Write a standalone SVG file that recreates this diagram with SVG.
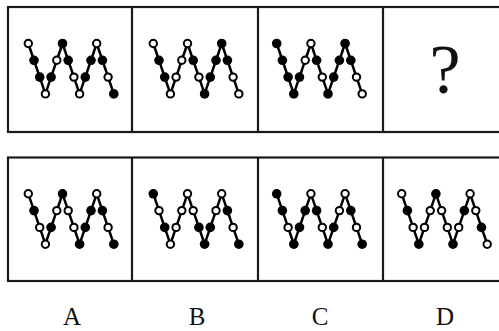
<svg xmlns="http://www.w3.org/2000/svg" xmlns:xlink="http://www.w3.org/1999/xlink" width="499" height="331" viewBox="0 0 499 331">
<style>
.frame{fill:none;stroke:#1a1a1a;stroke-width:2.2}
.zz{fill:none;stroke:#000;stroke-width:2.5;stroke-linejoin:round}
.o{fill:#fff;stroke:#000;stroke-width:2}
.f{fill:#000}
.lbl{font-family:"Liberation Serif","Times New Roman",serif;font-size:25px;fill:#111;text-anchor:middle}
.q{font-family:"Liberation Serif","Times New Roman",serif;font-size:70px;fill:#111;text-anchor:middle}
</style>
<defs>
<polyline id="zig" class="zz" points="0,0 17.1,50.4 34.2,0 51.3,50.4 68.4,0 85.5,50.4"/>
</defs>
<rect width="499" height="331" fill="#fff"/>
<g id="frames">
<rect class="frame" x="8" y="7" width="502" height="125"/>
<line class="frame" x1="132" y1="7" x2="132" y2="132"/>
<line class="frame" x1="258" y1="7" x2="258" y2="132"/>
<line class="frame" x1="383" y1="7" x2="383" y2="132"/>
<rect class="frame" x="8" y="157.5" width="502" height="123.5"/>
<line class="frame" x1="132" y1="157.5" x2="132" y2="281"/>
<line class="frame" x1="258" y1="157.5" x2="258" y2="281"/>
<line class="frame" x1="383" y1="157.5" x2="383" y2="281"/>
</g>
<g id="connectors">
<use xlink:href="#zig" transform="translate(28.3,43.5)"/>
<use xlink:href="#zig" transform="translate(153.3,43.5)"/>
<use xlink:href="#zig" transform="translate(276.7,43.5)"/>
<use xlink:href="#zig" transform="translate(28.3,193.8)"/>
<use xlink:href="#zig" transform="translate(153.3,193.8)"/>
<use xlink:href="#zig" transform="translate(276.7,193.8)"/>
<use xlink:href="#zig" transform="translate(401.7,193.8)"/>
</g>
<g id="panel1" transform="translate(28.3,43.5)">
<circle class="o" cx="0" cy="0" r="3.7"/><circle class="f" cx="5.7" cy="16.8" r="4.8"/><circle class="f" cx="11.4" cy="33.6" r="4.8"/><circle class="o" cx="17.1" cy="50.4" r="3.7"/>
<circle class="f" cx="22.8" cy="33.6" r="4.8"/><circle class="o" cx="28.5" cy="16.8" r="3.7"/><circle class="f" cx="34.2" cy="0" r="4.8"/>
<circle class="f" cx="39.9" cy="16.8" r="4.8"/><circle class="o" cx="45.6" cy="33.6" r="3.7"/><circle class="o" cx="51.3" cy="50.4" r="3.7"/>
<circle class="f" cx="57" cy="33.6" r="4.8"/><circle class="f" cx="62.7" cy="16.8" r="4.8"/><circle class="o" cx="68.4" cy="0" r="3.7"/>
<circle class="f" cx="74.1" cy="16.8" r="4.8"/><circle class="o" cx="79.8" cy="33.6" r="3.7"/><circle class="f" cx="85.5" cy="50.4" r="4.8"/>
</g>
<g id="panel2" transform="translate(153.3,43.5)">
<circle class="o" cx="0" cy="0" r="3.7"/><circle class="f" cx="5.7" cy="16.8" r="4.8"/><circle class="f" cx="11.4" cy="33.6" r="4.8"/><circle class="o" cx="17.1" cy="50.4" r="3.7"/>
<circle class="o" cx="22.8" cy="33.6" r="3.7"/><circle class="o" cx="28.5" cy="16.8" r="3.7"/><circle class="o" cx="34.2" cy="0" r="3.7"/>
<circle class="f" cx="39.9" cy="16.8" r="4.8"/><circle class="o" cx="45.6" cy="33.6" r="3.7"/><circle class="f" cx="51.3" cy="50.4" r="4.8"/>
<circle class="f" cx="57" cy="33.6" r="4.8"/><circle class="f" cx="62.7" cy="16.8" r="4.8"/><circle class="f" cx="68.4" cy="0" r="4.8"/>
<circle class="f" cx="74.1" cy="16.8" r="4.8"/><circle class="o" cx="79.8" cy="33.6" r="3.7"/><circle class="o" cx="85.5" cy="50.4" r="3.7"/>
</g>
<g id="panel3" transform="translate(276.7,43.5)">
<circle class="f" cx="0" cy="0" r="4.8"/><circle class="f" cx="5.7" cy="16.8" r="4.8"/><circle class="f" cx="11.4" cy="33.6" r="4.8"/><circle class="f" cx="17.1" cy="50.4" r="4.8"/>
<circle class="f" cx="22.8" cy="33.6" r="4.8"/><circle class="o" cx="28.5" cy="16.8" r="3.7"/><circle class="o" cx="34.2" cy="0" r="3.7"/>
<circle class="f" cx="39.9" cy="16.8" r="4.8"/><circle class="o" cx="45.6" cy="33.6" r="3.7"/><circle class="f" cx="51.3" cy="50.4" r="4.8"/>
<circle class="f" cx="57" cy="33.6" r="4.8"/><circle class="f" cx="62.7" cy="16.8" r="4.8"/><circle class="f" cx="68.4" cy="0" r="4.8"/>
<circle class="f" cx="74.1" cy="16.8" r="4.8"/><circle class="o" cx="79.8" cy="33.6" r="3.7"/><circle class="o" cx="85.5" cy="50.4" r="3.7"/>
</g>
<g id="panel4">
<text class="q" x="445" y="93">?</text>
</g>
<g id="optionA" transform="translate(28.3,193.8)">
<circle class="o" cx="0" cy="0" r="3.7"/><circle class="f" cx="5.7" cy="16.8" r="4.8"/><circle class="o" cx="11.4" cy="33.6" r="3.7"/><circle class="o" cx="17.1" cy="50.4" r="3.7"/>
<circle class="f" cx="22.8" cy="33.6" r="4.8"/><circle class="o" cx="28.5" cy="16.8" r="3.7"/><circle class="f" cx="34.2" cy="0" r="4.8"/>
<circle class="o" cx="39.9" cy="16.8" r="3.7"/><circle class="o" cx="45.6" cy="33.6" r="3.7"/><circle class="f" cx="51.3" cy="50.4" r="4.8"/>
<circle class="f" cx="57" cy="33.6" r="4.8"/><circle class="f" cx="62.7" cy="16.8" r="4.8"/><circle class="o" cx="68.4" cy="0" r="3.7"/>
<circle class="f" cx="74.1" cy="16.8" r="4.8"/><circle class="o" cx="79.8" cy="33.6" r="3.7"/><circle class="f" cx="85.5" cy="50.4" r="4.8"/>
</g>
<g id="optionB" transform="translate(153.3,193.8)">
<circle class="f" cx="0" cy="0" r="4.8"/><circle class="o" cx="5.7" cy="16.8" r="3.7"/><circle class="f" cx="11.4" cy="33.6" r="4.8"/><circle class="o" cx="17.1" cy="50.4" r="3.7"/>
<circle class="o" cx="22.8" cy="33.6" r="3.7"/><circle class="o" cx="28.5" cy="16.8" r="3.7"/><circle class="o" cx="34.2" cy="0" r="3.7"/>
<circle class="o" cx="39.9" cy="16.8" r="3.7"/><circle class="f" cx="45.6" cy="33.6" r="4.8"/><circle class="f" cx="51.3" cy="50.4" r="4.8"/>
<circle class="f" cx="57" cy="33.6" r="4.8"/><circle class="o" cx="62.7" cy="16.8" r="3.7"/><circle class="o" cx="68.4" cy="0" r="3.7"/>
<circle class="f" cx="74.1" cy="16.8" r="4.8"/><circle class="o" cx="79.8" cy="33.6" r="3.7"/><circle class="f" cx="85.5" cy="50.4" r="4.8"/>
</g>
<g id="optionC" transform="translate(276.7,193.8)">
<circle class="f" cx="0" cy="0" r="4.8"/><circle class="f" cx="5.7" cy="16.8" r="4.8"/><circle class="o" cx="11.4" cy="33.6" r="3.7"/><circle class="f" cx="17.1" cy="50.4" r="4.8"/>
<circle class="f" cx="22.8" cy="33.6" r="4.8"/><circle class="f" cx="28.5" cy="16.8" r="4.8"/><circle class="o" cx="34.2" cy="0" r="3.7"/>
<circle class="f" cx="39.9" cy="16.8" r="4.8"/><circle class="o" cx="45.6" cy="33.6" r="3.7"/><circle class="f" cx="51.3" cy="50.4" r="4.8"/>
<circle class="f" cx="57" cy="33.6" r="4.8"/><circle class="o" cx="62.7" cy="16.8" r="3.7"/><circle class="o" cx="68.4" cy="0" r="3.7"/>
<circle class="f" cx="74.1" cy="16.8" r="4.8"/><circle class="o" cx="79.8" cy="33.6" r="3.7"/><circle class="f" cx="85.5" cy="50.4" r="4.8"/>
</g>
<g id="optionD" transform="translate(401.7,193.8)">
<circle class="o" cx="0" cy="0" r="3.7"/><circle class="f" cx="5.7" cy="16.8" r="4.8"/><circle class="o" cx="11.4" cy="33.6" r="3.7"/><circle class="f" cx="17.1" cy="50.4" r="4.8"/>
<circle class="o" cx="22.8" cy="33.6" r="3.7"/><circle class="o" cx="28.5" cy="16.8" r="3.7"/><circle class="f" cx="34.2" cy="0" r="4.8"/>
<circle class="o" cx="39.9" cy="16.8" r="3.7"/><circle class="o" cx="45.6" cy="33.6" r="3.7"/><circle class="f" cx="51.3" cy="50.4" r="4.8"/>
<circle class="o" cx="57" cy="33.6" r="3.7"/><circle class="f" cx="62.7" cy="16.8" r="4.8"/><circle class="o" cx="68.4" cy="0" r="3.7"/>
<circle class="o" cx="74.1" cy="16.8" r="3.7"/><circle class="f" cx="79.8" cy="33.6" r="4.8"/><circle class="o" cx="85.5" cy="50.4" r="3.7"/>
</g>
<g id="labels">
<text class="lbl" x="72" y="325">A</text>
<text class="lbl" x="197" y="325">B</text>
<text class="lbl" x="320" y="325">C</text>
<text class="lbl" x="445" y="325">D</text>
</g>
</svg>
